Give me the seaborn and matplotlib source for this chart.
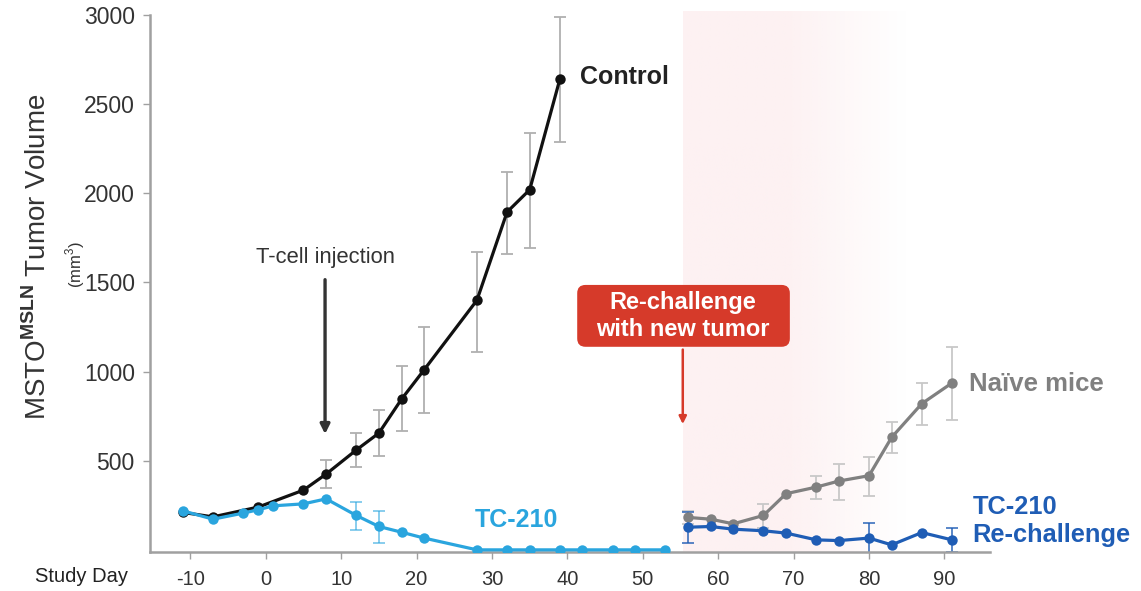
import numpy as np
import matplotlib
matplotlib.use("Agg")
import matplotlib.pyplot as plt
from matplotlib.patches import FancyBboxPatch
import seaborn as sns

# ---- data ----
ctrl_days = [-11, -7, -1, 5, 8, 12, 15, 18, 21, 28, 32, 35, 39]
ctrl_vol = [210, 185, 240, 335, 425, 560, 655, 845, 1010, 1400, 1895, 2020, 2640]
ctrl_err_days = [8, 12, 15, 18, 21, 28, 32, 35, 39]
ctrl_err_lo = [347, 466, 524, 665, 768, 1112, 1657, 1695, 2285]
ctrl_err_hi = [504, 657, 787, 1030, 1249, 1669, 2120, 2337, 2990]

tc_days = [-11, -7, -3, -1, 1, 5, 8, 12, 15, 18, 21, 28, 32, 35, 39, 42, 46, 49, 53]
tc_vol = [219, 172, 206, 225, 247, 258, 286, 193, 131, 99, 66, 0, 0, 0, 0, 0, 0, 0, 0]
tc_err_days = [12, 15]
tc_err_lo = [112, 41]
tc_err_hi = [271, 219]

naive_days = [56, 59, 62, 66, 69, 73, 76, 80, 83, 87, 91]
naive_vol = [182, 172, 146, 193, 315, 352, 386, 416, 631, 820, 936]
naive_err_days = [56, 66, 73, 76, 80, 83, 87, 91]
naive_err_lo = [145, 124, 287, 281, 300, 543, 702, 727]
naive_err_hi = [219, 258, 412, 481, 521, 717, 936, 1139]

rc_days = [56, 59, 62, 66, 69, 73, 76, 80, 83, 87, 91]
rc_vol = [127, 131, 116, 107, 94, 56, 52, 66, 28, 97, 56]
rc_err_days = [56, 80, 91]
rc_err_lo = [37, -19, -10]
rc_err_hi = [215, 150, 125]

x_ticks = [-10, 0, 10, 20, 30, 40, 50, 60, 70, 80, 90]
y_ticks = [500, 1000, 1500, 2000, 2500, 3000]

# ---- style ----
sns.set_style("white")
plt.rcParams['font.family'] = ['Liberation Sans', 'DejaVu Sans']
plt.rcParams['mathtext.fontset'] = 'custom'
plt.rcParams['mathtext.rm'] = 'Liberation Sans'
plt.rcParams['mathtext.bf'] = 'Liberation Sans:bold'
plt.rcParams['axes.unicode_minus'] = False

c_ctrl = '#111111'
c_tc = '#2aa5de'
c_naive = '#808080'
c_rc = '#1f5db5'
c_err = '#b0b0b0'
c_red = '#d63a2a'

fig = plt.figure(figsize=(11.41, 5.91), dpi=100)
ax = fig.add_axes([0.1315, 0.066, 0.7362, 0.9086])

# pink re-challenge window, fading out to the right
grad = np.ones((2, 200, 4))
grad[..., :3] = matplotlib.colors.to_rgb('#fdf1f2')
alpha = np.clip((1 - np.linspace(0, 1, 200)) / 0.55, 0, 1)
grad[..., 3] = alpha
ax.imshow(grad, extent=[55.3, 85, -12, 3020], aspect='auto', zorder=0,
          interpolation='bilinear', clip_on=False)
ax.set_xlim(-15.35, 96.05)
ax.set_ylim(-12, 3000)


def err(ax, days, vals, d_err, lo, hi, color, alpha=1.0):
    lookup = dict(zip(days, vals))
    y = np.array([lookup[d] for d in d_err])
    yerr = [y - np.array(lo), np.array(hi) - y]
    ax.errorbar(d_err, y, yerr=yerr, fmt='none', ecolor=color, elinewidth=1.3,
                capsize=4, capthick=1.3, alpha=alpha, zorder=2)


err(ax, ctrl_days, ctrl_vol, ctrl_err_days, ctrl_err_lo, ctrl_err_hi, c_err)
err(ax, tc_days, tc_vol, tc_err_days, tc_err_lo, tc_err_hi, c_tc, 0.6)
err(ax, naive_days, naive_vol, naive_err_days, naive_err_lo, naive_err_hi, '#c8c8c8')
err(ax, rc_days, rc_vol, rc_err_days, rc_err_lo, rc_err_hi, c_rc, 0.8)

kw = dict(marker='o', markersize=7.5, markeredgewidth=0, linewidth=2.3, ax=ax)
sns.lineplot(x=ctrl_days, y=ctrl_vol, color=c_ctrl, zorder=3, **kw)
sns.lineplot(x=tc_days, y=tc_vol, color=c_tc, zorder=4, **kw)
sns.lineplot(x=naive_days, y=naive_vol, color=c_naive, zorder=3, **kw)
sns.lineplot(x=rc_days, y=rc_vol, color=c_rc, zorder=4, **kw)

# axes look
sns.despine(ax=ax)
for s in ['left', 'bottom']:
    ax.spines[s].set_color('#a0a0a0')
    ax.spines[s].set_linewidth(1.8)
ax.set_xticks(x_ticks)
ax.set_yticks(y_ticks)
ax.tick_params(axis='both', colors='#a0a0a0', labelcolor='#333333',
               length=5, width=1, direction='out', bottom=True, left=True)
ax.tick_params(axis='x', pad=8, labelsize=14.5)
ax.tick_params(axis='y', pad=6, labelsize=16.5)
ax.set_xlabel('')
ax.set_ylabel('')

fig.text(38 / 1141, 1 - 257 / 591, r'MSTO$^{\mathbf{MSLN}}$ Tumor Volume',
         rotation=90, ha='center', va='center', fontsize=20, color='#333333')
fig.text(75 / 1141, 1 - 265 / 591, r'(mm$^3$)', rotation=90, ha='center',
         va='center', fontsize=12, color='#333333')
fig.text(35 / 1141, 1 - 576 / 591, 'Study Day', ha='left', va='center',
         fontsize=14.5, color='#222222')

# annotations
ax.text(7.86, 1638, 'T-cell injection', ha='center', va='center', fontsize=15.8,
        color='#333333')
ax.annotate('', xy=(7.86, 634), xytext=(7.86, 1531),
            arrowprops=dict(arrowstyle='-|>', color='#333333', lw=2.4,
                            mutation_scale=14))
ax.text(41.7, 2653, 'Control', ha='left', va='center', fontsize=18,
        fontweight='bold', color='#222222')
ax.text(33.3, 168, 'TC-210', ha='center', va='center', fontsize=18,
        fontweight='bold', color=c_tc)

# red call-out box (rounded, drawn in data units with matching aspect)
box = FancyBboxPatch((41.3, 1139), 28.2, 347,
                     boxstyle='round,pad=0,rounding_size=1.1',
                     mutation_aspect=42, fc=c_red, ec='none', zorder=6)
ax.add_patch(box)
ax.text(55.3, 1312, 'Re-challenge\nwith new tumor', ha='center', va='center',
        fontsize=17, fontweight='bold', color='white', linespacing=1.25,
        zorder=7)
ax.annotate('', xy=(55.3, 690), xytext=(55.3, 1139),
            arrowprops=dict(arrowstyle='-|>', color=c_red, lw=1.8,
                            mutation_scale=11))
ax.text(93.2, 931, 'Naïve mice', ha='left', va='center', fontsize=18.5,
        fontweight='bold', color=c_naive, clip_on=False)
ax.text(93.7, 163, 'TC-210\nRe-challenge', ha='left', va='center', fontsize=18.3,
        fontweight='bold', color=c_rc, linespacing=1.2, clip_on=False)

fig.savefig('out.png', dpi=100, facecolor='white')
